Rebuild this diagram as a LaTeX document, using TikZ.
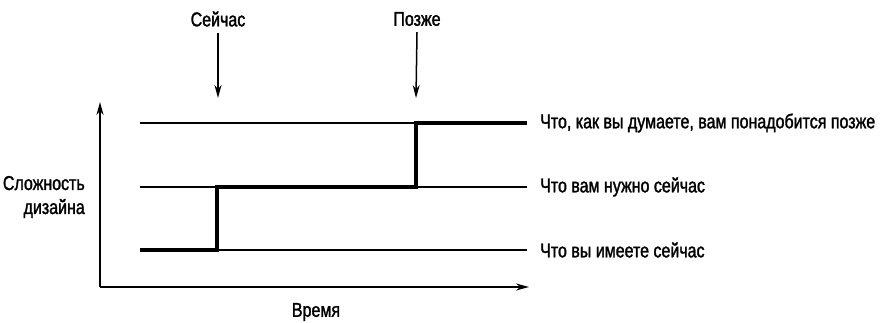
\documentclass[tikz,border=0pt]{standalone}
\usepackage{fontspec}
\setmainfont{Liberation Sans}[FakeStretch=0.8,FakeBold=1.5]
\usetikzlibrary{arrows.meta}
\begin{document}
\begin{tikzpicture}[x=1pt,y=1pt,
  lbl/.style={font=\fontsize{20}{24}\selectfont, inner sep=0pt},
  thinline/.style={line width=1.5pt},
  thickline/.style={line width=4pt},
  axis/.style={line width=1.8pt,-{Stealth[length=13pt,width=7pt]}},
  pointer/.style={line width=1.5pt,-{Stealth[length=13pt,width=7pt]}}]
\useasboundingbox (0,0) rectangle (881,323);
% axes
\coordinate (O) at (100,36);
\coordinate (Ytop) at (100,221);
\coordinate (Xend) at (529,36);
\draw[axis] (O) -- (Ytop);
\draw[axis] (O) -- (Xend);
% level lines
\coordinate (t0) at (140,200);
\coordinate (t1) at (527,200);
\coordinate (m0) at (140,136);
\coordinate (m1) at (527,136);
\coordinate (b0) at (140,73);
\coordinate (b1) at (527,73);
\draw[thinline] (t0) -- (t1);
\draw[thinline] (m0) -- (m1);
\draw[thinline] (b0) -- (b1);
% step
\draw[thickline, line join=miter] (b0) -- (217,73) -- (217,136) -- (416,136) -- (416,200) -- (t1);
% labels right
\node[lbl, anchor=west] (lt) at (540,200) {Что, как вы думаете, вам понадобится позже};
\node[lbl, anchor=west] (lm) at (540,136) {Что вам нужно сейчас};
\node[lbl, anchor=west] (lb) at (540,73) {Что вы имеете сейчас};
% left label
\node[lbl, anchor=east, align=right] (ly) at (85,126) {Сложность\\дизайна};
\node[lbl] (lx) at (316,11) {Время};
% pointers
\node[lbl] (now) at (218,304) {Сейчас};
\node[lbl] (later) at (417,304) {Позже};
\coordinate (nowtip) at (218,225);
\coordinate (latertip) at (416,225);
\draw[pointer] (now.south) ++(0,-6) -- (nowtip);
\draw[pointer] (later.south) ++(0,-6) -- (latertip);
\end{tikzpicture}
\end{document}
